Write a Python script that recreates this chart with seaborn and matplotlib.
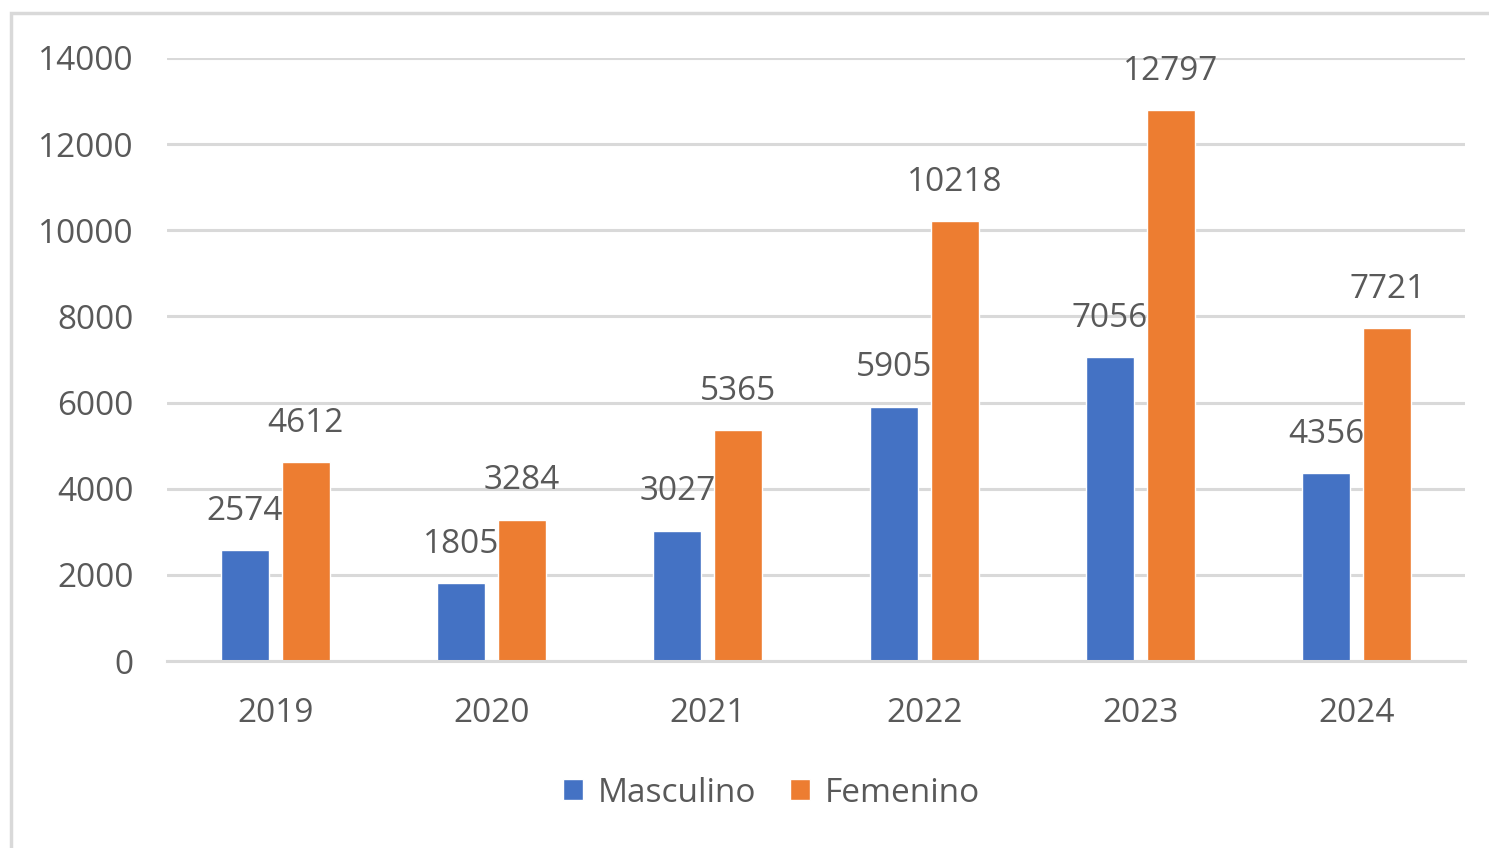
import matplotlib
matplotlib.use("Agg")
import matplotlib.pyplot as plt
from matplotlib.patches import Rectangle
import seaborn as sns
import pandas as pd

# data
years = ["2019", "2020", "2021", "2022", "2023", "2024"]
masculino = [2574, 1805, 3027, 5905, 7056, 4356]
femenino = [4612, 3284, 5365, 10218, 12797, 7721]
series = ["Masculino", "Femenino"]
colors = ["#4472C4", "#ED7D31"]

df = pd.DataFrame({
    "year": years * 2,
    "value": masculino + femenino,
    "sexo": [series[0]] * len(years) + [series[1]] * len(years),
})

sns.set_style("white")
plt.rcParams["font.family"] = ["Open Sans", "DejaVu Sans"]
text_color = "#595959"
grid_color = "#D9D9D9"
fs = 24

fig = plt.figure(figsize=(14.89, 8.48), dpi=100)
ax = fig.add_axes([167 / 1489, 1 - 661 / 848, (1465 - 167) / 1489, (661 - 58) / 848])

sns.barplot(data=df, x="year", y="value", hue="sexo", palette=colors,
            width=0.564, gap=0.21, errorbar=None, saturation=1, ax=ax)

ax.set_ylim(0, 14000)
ax.set_xlim(-0.5, 5.5)
ax.set_yticks(range(0, 14001, 2000))
ax.yaxis.grid(True, color=grid_color, linewidth=2.2)
ax.set_axisbelow(True)
for side in ["top", "right", "left"]:
    ax.spines[side].set_visible(False)
ax.spines["bottom"].set_color(grid_color)
ax.spines["bottom"].set_linewidth(2.2)
ax.tick_params(axis="both", length=0, labelsize=fs, labelcolor=text_color)
ax.tick_params(axis="y", pad=24)
ax.tick_params(axis="x", pad=26)
ax.set_xlabel("")
ax.set_ylabel("")

for cont in ax.containers:
    ax.bar_label(cont, fmt="%d", padding=16, fontsize=fs, color=text_color)

ax.legend(loc="center", bbox_to_anchor=(0.5 + 27 / 1489, 1 - 793 / 848),
          bbox_transform=fig.transFigure, ncol=2, frameon=False,
          fontsize=fs, labelcolor=text_color, handlelength=0.6,
          handleheight=0.6, handletextpad=0.45, columnspacing=1.0)

# outer chart border (left and top visible in the reference)
fig.add_artist(Rectangle((11 / 1489, -0.1), 1.2, 1 - 13 / 848 + 0.1,
                         transform=fig.transFigure, fill=False,
                         edgecolor=grid_color, linewidth=2.5))

fig.savefig("out.png", dpi=100)
